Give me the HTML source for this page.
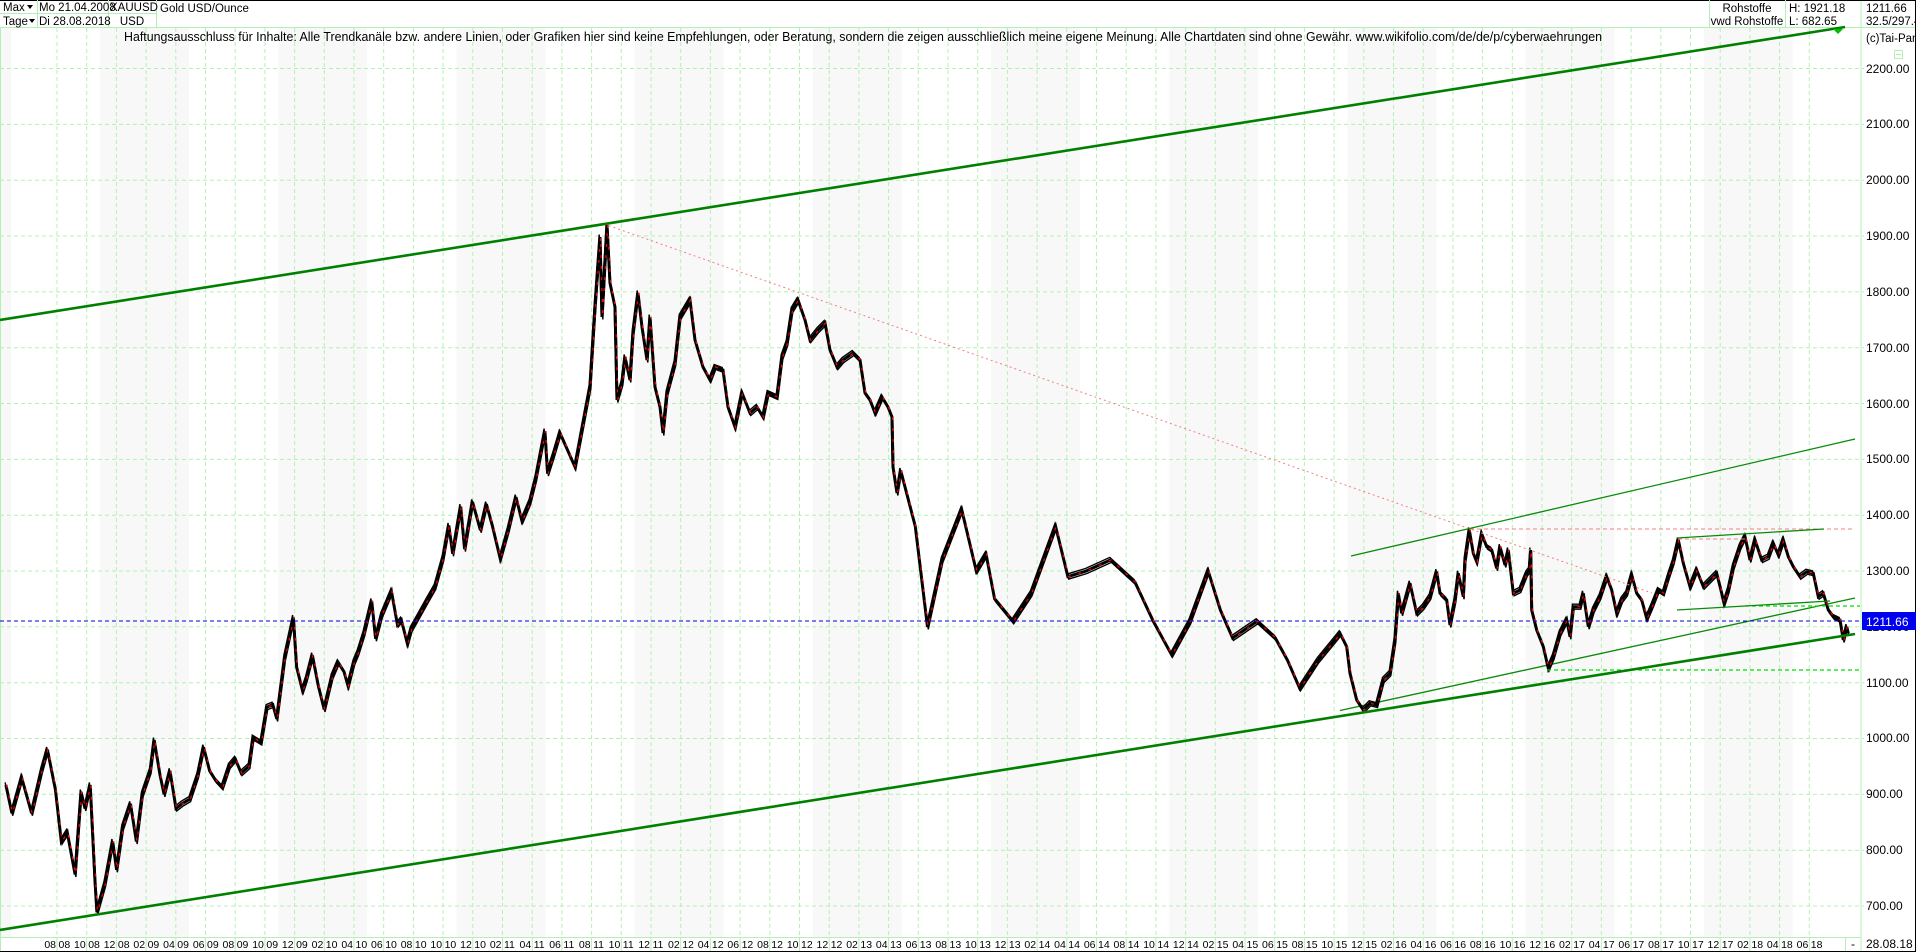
<!DOCTYPE html>
<html><head><meta charset="utf-8"><style>
html,body{margin:0;padding:0;background:#fff;overflow:hidden}
svg{display:block;font-family:"Liberation Sans",Arial,sans-serif}
</style></head><body>
<svg width="1916" height="952" viewBox="0 0 1916 952" xmlns="http://www.w3.org/2000/svg">
<rect x="0" y="0" width="1916" height="952" fill="#fff"/>
<g fill="#f8f8f8">
<rect x="1" y="28" width="10" height="909"/><rect x="100" y="28" width="89" height="909"/><rect x="278.2" y="28" width="89" height="909"/><rect x="456.4" y="28" width="89" height="909"/><rect x="634.6" y="28" width="89" height="909"/><rect x="812.8" y="28" width="89" height="909"/><rect x="991" y="28" width="89" height="909"/><rect x="1169.2" y="28" width="89" height="909"/><rect x="1347.4" y="28" width="89" height="909"/><rect x="1525.6" y="28" width="89" height="909"/><rect x="1703.8" y="28" width="89" height="909"/>
</g>
<path stroke="#b4f0b4" stroke-width="1" stroke-dasharray="4,3" fill="none" d="M57 28V937M86.7 28V937M116.4 28V937M146.1 28V937M175.8 28V937M205.5 28V937M235.2 28V937M264.9 28V937M294.6 28V937M324.3 28V937M354 28V937M383.7 28V937M413.4 28V937M443.1 28V937M472.8 28V937M502.5 28V937M532.2 28V937M561.9 28V937M591.6 28V937M621.3 28V937M651 28V937M680.7 28V937M710.4 28V937M740.1 28V937M769.8 28V937M799.5 28V937M829.2 28V937M858.9 28V937M888.6 28V937M918.3 28V937M948 28V937M977.7 28V937M1007.4 28V937M1037.1 28V937M1066.8 28V937M1096.5 28V937M1126.2 28V937M1155.9 28V937M1185.6 28V937M1215.3 28V937M1245 28V937M1274.7 28V937M1304.4 28V937M1334.1 28V937M1363.8 28V937M1393.5 28V937M1423.2 28V937M1452.9 28V937M1482.6 28V937M1512.3 28V937M1542 28V937M1571.7 28V937M1601.4 28V937M1631.1 28V937M1660.8 28V937M1690.5 28V937M1720.2 28V937M1749.9 28V937M1779.6 28V937M1809.3 28V937
M0 906H1864M0 850.2H1864M0 794.3H1864M0 738.5H1864M0 682.7H1864M0 626.8H1864M0 571H1864M0 515.2H1864M0 459.4H1864M0 403.5H1864M0 347.7H1864M0 291.9H1864M0 236H1864M0 180.2H1864M0 124.4H1864M0 68.5H1864"/>
<line x1="0.5" y1="27" x2="0.5" y2="951" stroke="#b4f0b4"/>
<line x1="1861" y1="0" x2="1861" y2="951" stroke="#b4f0b4"/>
<line x1="0" y1="27.5" x2="1916" y2="27.5" stroke="#b4f0b4"/>
<line x1="0" y1="937.5" x2="1861" y2="937.5" stroke="#b4f0b4"/>
<line x1="0" y1="0.5" x2="1916" y2="0.5" stroke="#000"/>
<line x1="0" y1="951.5" x2="1916" y2="951.5" stroke="#000"/>
<line x1="1915.5" y1="0" x2="1915.5" y2="952" stroke="#000"/>
<g stroke="#b4f0b4"><line x1="37.5" y1="0" x2="37.5" y2="27"/><line x1="108.5" y1="0" x2="108.5" y2="27"/><line x1="156.5" y1="0" x2="156.5" y2="27"/><line x1="0" y1="13.5" x2="156" y2="13.5"/>
<line x1="1709.5" y1="0" x2="1709.5" y2="27"/><line x1="1785.5" y1="0" x2="1785.5" y2="27"/></g>
<g font-size="11.5" fill="#000">
<text x="3" y="11">Max</text><path d="M27 5 L33 5 L30 9 Z" fill="#000"/>
<text x="3" y="25">Tage</text><path d="M29 19 L35 19 L32 23 Z" fill="#000"/>
<text x="39" y="11">Mo 21.04.2008</text><text x="39" y="25">Di 28.08.2018</text>
<text x="110" y="11">XAUUSD</text><text x="132" y="25" text-anchor="middle">USD</text>
<text x="160" y="12">Gold USD/Ounce</text>
<text x="1747" y="12" text-anchor="middle">Rohstoffe</text><text x="1747" y="25" text-anchor="middle">vwd Rohstoffe</text>
<text x="1789" y="12">H: 1921.18</text><text x="1789" y="25">L: 682.65</text>
<text x="1866" y="12">1211.66</text><text x="1866" y="25">32.5/297.4</text>
<text x="1866" y="42">(c)Tai-Pan</text>
</g>
<rect x="1894.5" y="50.5" width="8" height="8" fill="none" stroke="#b4f0b4"/><line x1="1896" y1="54.5" x2="1901" y2="54.5" stroke="#b4f0b4"/>
<text x="124" y="41" font-size="13" textLength="1478" lengthAdjust="spacingAndGlyphs" fill="#000">Haftungsausschluss für Inhalte: Alle Trendkanäle bzw. andere Linien, oder Grafiken hier sind keine Empfehlungen, oder Beratung, sondern die zeigen ausschließlich meine eigene Meinung. Alle Chartdaten sind ohne Gewähr.  www.wikifolio.com/de/de/p/cyberwaehrungen</text>
<g font-size="12" fill="#000">
<text x="1866" y="910">700.00</text><text x="1866" y="854">800.00</text><text x="1866" y="798">900.00</text><text x="1866" y="742">1000.00</text><text x="1866" y="687">1100.00</text><text x="1866" y="631">1200.00</text><text x="1866" y="575">1300.00</text><text x="1866" y="519">1400.00</text><text x="1866" y="463">1500.00</text><text x="1866" y="408">1600.00</text><text x="1866" y="352">1700.00</text><text x="1866" y="296">1800.00</text><text x="1866" y="240">1900.00</text><text x="1866" y="184">2000.00</text><text x="1866" y="128">2100.00</text><text x="1866" y="73">2200.00</text>
</g>
<g font-size="10.5" fill="#000">
<text y="948" text-anchor="end"><tspan x="56">08</tspan><tspan x="85.7">10</tspan><tspan x="115.4">12</tspan><tspan x="145.1">02</tspan><tspan x="174.8">04</tspan><tspan x="204.5">06</tspan><tspan x="234.2">08</tspan><tspan x="263.9">10</tspan><tspan x="293.6">12</tspan><tspan x="323.3">02</tspan><tspan x="353">04</tspan><tspan x="382.7">06</tspan><tspan x="412.4">08</tspan><tspan x="442.1">10</tspan><tspan x="471.8">12</tspan><tspan x="501.5">02</tspan><tspan x="531.2">04</tspan><tspan x="560.9">06</tspan><tspan x="590.6">08</tspan><tspan x="620.3">10</tspan><tspan x="650">12</tspan><tspan x="679.7">02</tspan><tspan x="709.4">04</tspan><tspan x="739.1">06</tspan><tspan x="768.8">08</tspan><tspan x="798.5">10</tspan><tspan x="828.2">12</tspan><tspan x="857.9">02</tspan><tspan x="887.6">04</tspan><tspan x="917.3">06</tspan><tspan x="947">08</tspan><tspan x="976.7">10</tspan><tspan x="1006.4">12</tspan><tspan x="1036.1">02</tspan><tspan x="1065.8">04</tspan><tspan x="1095.5">06</tspan><tspan x="1125.2">08</tspan><tspan x="1154.9">10</tspan><tspan x="1184.6">12</tspan><tspan x="1214.3">02</tspan><tspan x="1244">04</tspan><tspan x="1273.7">06</tspan><tspan x="1303.4">08</tspan><tspan x="1333.1">10</tspan><tspan x="1362.8">12</tspan><tspan x="1392.5">02</tspan><tspan x="1422.2">04</tspan><tspan x="1451.9">06</tspan><tspan x="1481.6">08</tspan><tspan x="1511.3">10</tspan><tspan x="1541">12</tspan><tspan x="1570.7">02</tspan><tspan x="1600.4">04</tspan><tspan x="1630.1">06</tspan><tspan x="1659.8">08</tspan><tspan x="1689.5">10</tspan><tspan x="1719.2">12</tspan><tspan x="1748.9">02</tspan><tspan x="1778.6">04</tspan><tspan x="1808.3">06</tspan></text>
<text y="948"><tspan x="58.5">08</tspan><tspan x="88.2">08</tspan><tspan x="117.9">08</tspan><tspan x="147.6">09</tspan><tspan x="177.3">09</tspan><tspan x="207">09</tspan><tspan x="236.7">09</tspan><tspan x="266.4">09</tspan><tspan x="296.1">09</tspan><tspan x="325.8">10</tspan><tspan x="355.5">10</tspan><tspan x="385.2">10</tspan><tspan x="414.9">10</tspan><tspan x="444.6">10</tspan><tspan x="474.3">10</tspan><tspan x="504">11</tspan><tspan x="533.7">11</tspan><tspan x="563.4">11</tspan><tspan x="593.1">11</tspan><tspan x="622.8">11</tspan><tspan x="652.5">11</tspan><tspan x="682.2">12</tspan><tspan x="711.9">12</tspan><tspan x="741.6">12</tspan><tspan x="771.3">12</tspan><tspan x="801">12</tspan><tspan x="830.7">12</tspan><tspan x="860.4">13</tspan><tspan x="890.1">13</tspan><tspan x="919.8">13</tspan><tspan x="949.5">13</tspan><tspan x="979.2">13</tspan><tspan x="1008.9">13</tspan><tspan x="1038.6">14</tspan><tspan x="1068.3">14</tspan><tspan x="1098">14</tspan><tspan x="1127.7">14</tspan><tspan x="1157.4">14</tspan><tspan x="1187.1">14</tspan><tspan x="1216.8">15</tspan><tspan x="1246.5">15</tspan><tspan x="1276.2">15</tspan><tspan x="1305.9">15</tspan><tspan x="1335.6">15</tspan><tspan x="1365.3">15</tspan><tspan x="1395">16</tspan><tspan x="1424.7">16</tspan><tspan x="1454.4">16</tspan><tspan x="1484.1">16</tspan><tspan x="1513.8">16</tspan><tspan x="1543.5">16</tspan><tspan x="1573.2">17</tspan><tspan x="1602.9">17</tspan><tspan x="1632.6">17</tspan><tspan x="1662.3">17</tspan><tspan x="1692">17</tspan><tspan x="1721.7">17</tspan><tspan x="1751.4">18</tspan><tspan x="1781.1">18</tspan><tspan x="1810.8">18</tspan></text>
</g>
<g font-size="12" fill="#000"><text x="1853" y="948" text-anchor="middle">-</text><text x="1866" y="948">28.08.18</text></g>
<path stroke="#b4f0b4" d="M57 938V951M86.7 938V951M116.4 938V951M146.1 938V951M175.8 938V951M205.5 938V951M235.2 938V951M264.9 938V951M294.6 938V951M324.3 938V951M354 938V951M383.7 938V951M413.4 938V951M443.1 938V951M472.8 938V951M502.5 938V951M532.2 938V951M561.9 938V951M591.6 938V951M621.3 938V951M651 938V951M680.7 938V951M710.4 938V951M740.1 938V951M769.8 938V951M799.5 938V951M829.2 938V951M858.9 938V951M888.6 938V951M918.3 938V951M948 938V951M977.7 938V951M1007.4 938V951M1037.1 938V951M1066.8 938V951M1096.5 938V951M1126.2 938V951M1155.9 938V951M1185.6 938V951M1215.3 938V951M1245 938V951M1274.7 938V951M1304.4 938V951M1334.1 938V951M1363.8 938V951M1393.5 938V951M1423.2 938V951M1452.9 938V951M1482.6 938V951M1512.3 938V951M1542 938V951M1571.7 938V951M1601.4 938V951M1631.1 938V951M1660.8 938V951M1690.5 938V951M1720.2 938V951M1749.9 938V951M1779.6 938V951M1809.3 938V951M1845.5 938V951"/>
<line x1="1340" y1="710.5" x2="1855" y2="598" stroke="#0a8a0a" stroke-width="1.3"/>
<defs>
<path id="pr" fill="none" d="M5.9 784.9L11.9 813.2L21.7 777.8L31.6 813.2L41.5 770.8L47.4 749.5L55.4 789.6L61.3 841.5L67.2 832.1L75.1 874.5L81.1 792L85 808.5L90.2 784.9L94.9 879.2L96.9 912.3L104.8 884L112.7 841.5L116.6 869.8L122.6 827.4L130.5 803.8L136.4 841.5L142.3 794.3L150.3 770.8L154.2 740.1L160.1 775.5L164.1 794.3L170 770.8L176 808.5L181.9 803.8L189.8 799.1L197.7 775.5L203.6 747.2L209.6 770.8L215.5 780.2L222.2 787.3L229.3 766L235.3 759L241.2 773.1L249.1 766L253.1 737.7L261 742.5L266.9 707.1L272.8 704.7L276.8 718.9L284.7 657.5L293.4 617.5L296.6 667L302.5 690.6L306.4 678.8L312.4 655.2L318.3 685.8L324.2 709.4L332.1 676.4L338.1 662.3L344 671.7L348 685.8L353.9 662.3L357.9 652.8L363.8 634L371.7 600.9L375.6 638.7L381.6 615.1L391.5 591.5L397.4 624.5L401.3 619.8L407.3 643.4L411.2 629.2L419.1 615.1L427 600.9L435 586.8L442.9 558.5L448.8 525.5L452.7 553.8L460.7 506.6L464.6 549.1L472.5 501.9L480.4 530.2L486.4 504.2L492.3 525.5L500.2 558.5L508.1 530.2L516 497.2L521.9 520.8L529.9 501.9L535.8 478.3L544.9 431.1L547.6 473.6L553.6 454.7L560 433L575 467L590 387L595 307L600 237L602 317L607 225L610 283L615 307L617 400L622 383L625 357L630 380L633 333L638 293L642 327L647 360L650 317L655 387L660 407L663 433L667 393L675 363L680 317L690 300L695 340L703 367L710 380L715 367L723 370L728 407L735 427L742 393L750 413L757 407L763 417L768 393L777 397L782 357L787 343L792 310L798 300L805 320L810 340L818 330L825 323L830 350L837 367L843 360L853 353L860 360L865 393L870 400L875 413L882 397L888 407L892 417L893 467L897 493L900.7 470.5L915.3 526.4L927.5 626.9L942.1 559.9L961.7 509.6L976.3 571L986.1 554.3L994.6 598.9L1012.9 621.3L1031.2 593.4L1055.6 526.4L1067.9 576.6L1086.2 571L1110.6 559.9L1135 582.2L1153.3 621.3L1171.6 654.8L1189.9 621.3L1208.2 571L1220.4 610.1L1232.6 638L1257 621.3L1275.3 638L1287.5 660.3L1299.7 688.3L1318 660.3L1336.3 638L1340 633.3L1346.7 646.7L1350 673.3L1356.7 700L1363.3 710L1370 703.3L1376.7 705L1383.3 680L1390 673.3L1395 640L1398.3 593.3L1401.7 613.3L1410 583.3L1416.7 613.3L1423.3 606.7L1430 596.7L1436.7 571.7L1440 593.3L1446.7 600L1450 625L1455 600L1458.3 573.3L1463.3 596.7L1465 560L1469.3 530L1473.3 553.3L1476.7 561.7L1481.7 534L1486.7 546.7L1491.7 550L1496.7 568.3L1500 546.7L1505 565L1508.3 550L1513.3 593.3L1520 590L1526.7 573.3L1529.3 570L1530.7 550L1531.7 610L1536.7 630L1543.3 646.7L1548.3 668.3L1553.3 656.7L1560 633.3L1566.7 620L1570 636.7L1573.3 606.7L1580 606.7L1583.3 593.3L1588.3 626.7L1593.3 610L1600 596.7L1606.7 576.7L1611.7 590L1616.7 613.3L1621.7 600L1626.7 593.3L1631.7 575L1636.7 593.3L1641.7 600L1646.7 618.3L1651.7 606.7L1658.3 590L1663.3 593.3L1668.3 576.7L1673.3 561.7L1678.3 540L1683.3 563.3L1690 586.7L1696.7 570L1703.3 586.7L1710 580L1716.7 573.3L1721.7 593.3L1724 603.3L1728.3 590L1733.3 566.7L1740 546.7L1745 536.7L1750 560L1755 540L1761.7 560L1768.3 556.7L1773.3 543.3L1778.3 555L1783.3 540L1788.3 556.7L1793.3 566.7L1800 576.7L1806.7 571.7L1813.3 573.3L1818.3 596.7L1823.3 593.3L1828.3 610L1833.3 616.7L1840 620L1843.3 640L1846.7 626.7L1848.3 633.3"/>
</defs>
<use href="#pr" stroke="#000" stroke-width="3" fill="none"/>
<use href="#pr" stroke="#000" stroke-width="1.4" fill="none" transform="translate(0.8,2.5)"/>
<use href="#pr" stroke="#000" stroke-width="1.4" fill="none" transform="translate(-0.8,-2.5)"/>
<use href="#pr" stroke="#ff0000" stroke-width="1.2" stroke-dasharray="3,8" fill="none" transform="translate(0.6,0)"/>
<line x1="604" y1="224" x2="1652" y2="593" stroke="#f08080" stroke-width="1" stroke-dasharray="2,3"/>
<line x1="1470" y1="529" x2="1855" y2="529" stroke="#f08080" stroke-width="1" stroke-dasharray="4,3"/>
<line x1="1678" y1="539" x2="1745" y2="539" stroke="#f08080" stroke-width="1" stroke-dasharray="4,3"/>
<line x1="0" y1="621" x2="1861" y2="621" stroke="#0000cc" stroke-width="1" stroke-dasharray="4,3"/>
<line x1="1745" y1="606" x2="1860" y2="606" stroke="#00e000" stroke-width="1.2" stroke-dasharray="4,3"/>
<line x1="1547" y1="670" x2="1860" y2="670" stroke="#00e000" stroke-width="1.2" stroke-dasharray="4,3"/>
<line x1="0" y1="320" x2="1845" y2="27" stroke="#008000" stroke-width="2.6"/>
<line x1="0" y1="930" x2="1855" y2="634" stroke="#008000" stroke-width="2.6"/>
<line x1="1351" y1="556" x2="1855" y2="439" stroke="#0a8a0a" stroke-width="1.3"/>
<line x1="1677" y1="538" x2="1824" y2="529" stroke="#0a8a0a" stroke-width="1.3"/>
<line x1="1677" y1="610" x2="1830" y2="601" stroke="#0a8a0a" stroke-width="1.3"/>
<path d="M1833 29 L1843 29 L1838 34 Z" fill="#00c000"/>
<rect x="1862" y="612" width="54" height="18" fill="#0000ee"/>
<text x="1866" y="626" font-size="12" fill="#fff">1211.66</text>
</svg>
</body></html>
